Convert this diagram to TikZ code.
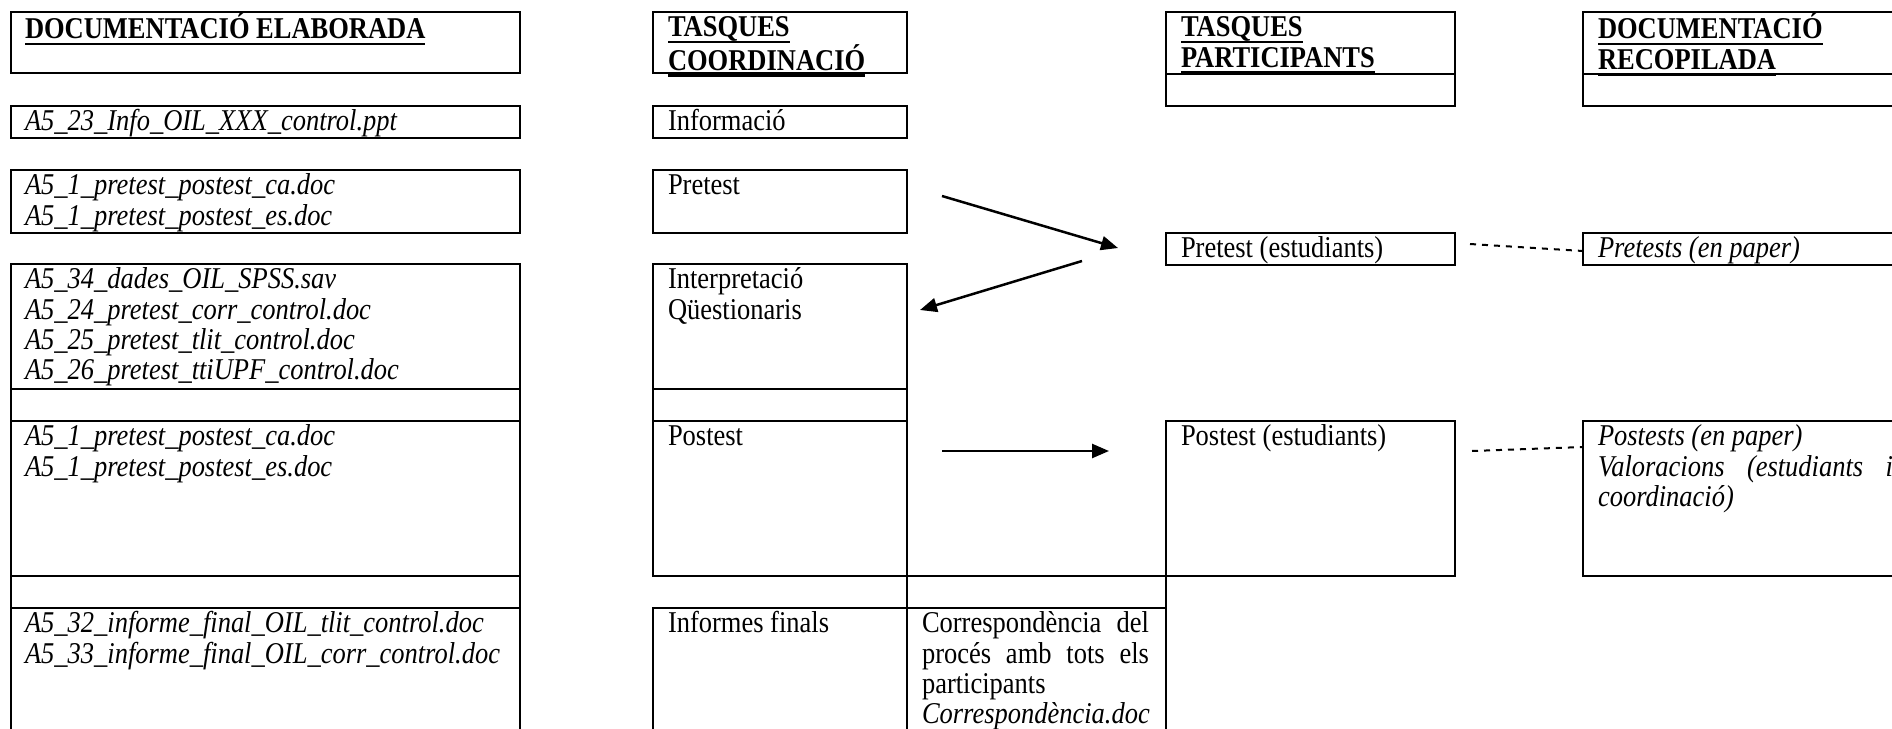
\documentclass[tikz,border=0pt]{standalone}
\usepackage{fontspec}
% Times-metric serif, set a little condensed so the letters stand tall
\setmainfont{Liberation Serif}[FakeStretch=0.877]
\usetikzlibrary{arrows.meta}
% body text of the cells
\newcommand\cellfont{\fontsize{30.2pt}{30.4pt}\selectfont}
% strut that fixes the first baseline below the top of a cell
\newcommand\firstline{\rule{0pt}{23.6pt}}
% heavy underline for the column headings
\newcommand\hdul[1]{\setbox0\hbox{#1}\rlap{\rule[-6.5pt]{\wd0}{2.4pt}}\box0}
\begin{document}
\begin{tikzpicture}[x=1pt,y=-1pt,
  frame/.style={line width=2pt, line cap=rect},
  cell/.style={anchor=north west, inner sep=0pt, outer sep=0pt, align=left, font=\cellfont},
  flow/.style={line width=2.5pt, -{Triangle[length=17pt,width=14pt]}},
  link/.style={line width=2pt, dash pattern=on 6pt off 6pt}]
\useasboundingbox (0,0) rectangle (1892,728);
\clip (0,0) rectangle (1892,728);

% ---- column headings
\draw[frame] (11,12) rectangle (520,73);
\draw[frame] (653,12) rectangle (907,73);
\draw[frame] (1166,12) rectangle (1455,106);
\draw[frame] (1166,74) -- (1455,74);
\draw[frame] (1583,12) rectangle (1915,106);
\draw[frame] (1583,74) -- (1915,74);

% ---- information row
\draw[frame] (11,106) rectangle (520,138);
\draw[frame] (653,106) rectangle (907,138);

% ---- pretest row
\draw[frame] (11,170) rectangle (520,233);
\draw[frame] (653,170) rectangle (907,233);
\draw[frame] (1166,233) rectangle (1455,265);
\draw[frame] (1583,233) rectangle (1915,265);

% ---- lower table, documents column
\draw[frame] (11,745) -- (11,264) -- (520,264) -- (520,745);
\foreach \yy in {389,421,576,608} \draw[frame] (11,\yy) -- (520,\yy);

% ---- lower table, coordination columns
\draw[frame] (653,576) -- (653,264) -- (907,264) -- (907,745);
\draw[frame] (653,745) -- (653,608);
\draw[frame] (653,389) -- (907,389);
\draw[frame] (653,421) -- (907,421);
\draw[frame] (653,576) -- (1455,576);
\draw[frame] (653,608) -- (1166,608);

% ---- postest boxes of the participants and collected documents
\draw[frame] (1166,745) -- (1166,421) -- (1455,421) -- (1455,576);
\draw[frame] (1915,421) -- (1583,421) -- (1583,576) -- (1915,576);

% ---- headings text
\node[cell] (hElab) at (25,13) {\firstline\textbf{\hdul{DOCUMENTACIÓ ELABORADA}}};
\node[cell] (hCoord) at (668,13) {\firstline\textbf{\hdul{TASQUES}}\\\textbf{\hdul{COORDINACIÓ}}};
\node[cell] (hPart) at (1181,13) {\firstline\textbf{\hdul{TASQUES}}\\\textbf{\hdul{PARTICIPANTS}}};
\node[cell] (hRec) at (1598,13) {\firstline\textbf{\hdul{DOCUMENTACIÓ}}\\\textbf{\hdul{RECOPILADA}}};

% ---- information
\node[cell] (dInfo) at (25,107) {\firstline\textit{A5\_23\_Info\_OIL\_XXX\_control.ppt}};
\node[cell] (tInfo) at (668,107) {\firstline Informació};

% ---- pretest
\node[cell] (dPre) at (25,171) {\firstline\textit{A5\_1\_pretest\_postest\_ca.doc}\\\textit{A5\_1\_pretest\_postest\_es.doc}};
\node[cell] (tPre) at (668,171) {\firstline Pretest};
\node[cell] (pPre) at (1181,234) {\firstline Pretest (estudiants)};
\node[cell] (rPre) at (1598,234) {\firstline\textit{Pretests (en paper)}};

% ---- interpretation of the questionnaires
\node[cell] (dInt) at (25,265) {\firstline\textit{A5\_34\_dades\_OIL\_SPSS.sav}\\
  \textit{A5\_24\_pretest\_corr\_control.doc}\\
  \textit{A5\_25\_pretest\_tlit\_control.doc}\\
  \textit{A5\_26\_pretest\_ttiUPF\_control.doc}};
\node[cell] (tInt) at (668,265) {\firstline Interpretació\\Qüestionaris};

% ---- postest
\node[cell] (dPost) at (25,422) {\firstline\textit{A5\_1\_pretest\_postest\_ca.doc}\\\textit{A5\_1\_pretest\_postest\_es.doc}};
\node[cell] (tPost) at (668,422) {\firstline Postest};
\node[cell] (pPost) at (1181,422) {\firstline Postest (estudiants)};
\node[cell] (rPost) at (1598,422) {\firstline\textit{Postests (en paper)}\\
  \makebox[295pt][s]{\textit{Valoracions (estudiants i}}\\
  \textit{coordinació)}};

% ---- final reports
\node[cell] (dFin) at (25,609) {\firstline\textit{A5\_32\_informe\_final\_OIL\_tlit\_control.doc}\\\textit{A5\_33\_informe\_final\_OIL\_corr\_control.doc}};
\node[cell] (tFin) at (668,609) {\firstline Informes finals};
\node[cell] (tCorr) at (922,609) {\firstline\makebox[227pt][s]{Correspondència del}\\
  \makebox[227pt][s]{procés amb tots els}\\
  participants\\
  \textit{Correspondència.doc}};

% ---- connector end points
\coordinate (a1s) at (942,196);
\coordinate (a1e) at (1118,248);
\coordinate (a2s) at (1082,261);
\coordinate (a2e) at (920,310);
\coordinate (a3s) at (942,451);
\coordinate (a3e) at (1109,451);
\coordinate (d1s) at (1470,244);
\coordinate (d1e) at (1583,251);
\coordinate (d2s) at (1472,451);
\coordinate (d2e) at (1583,447);

% ---- flow between coordination and participants
\draw[flow] (a1s) -- (a1e);
\draw[flow] (a2s) -- (a2e);
\draw[flow] (a3s) -- (a3e);

% ---- links to the collected documents
\draw[link] (d1s) -- (d1e);
\draw[link] (d2s) -- (d2e);
\end{tikzpicture}
\end{document}
